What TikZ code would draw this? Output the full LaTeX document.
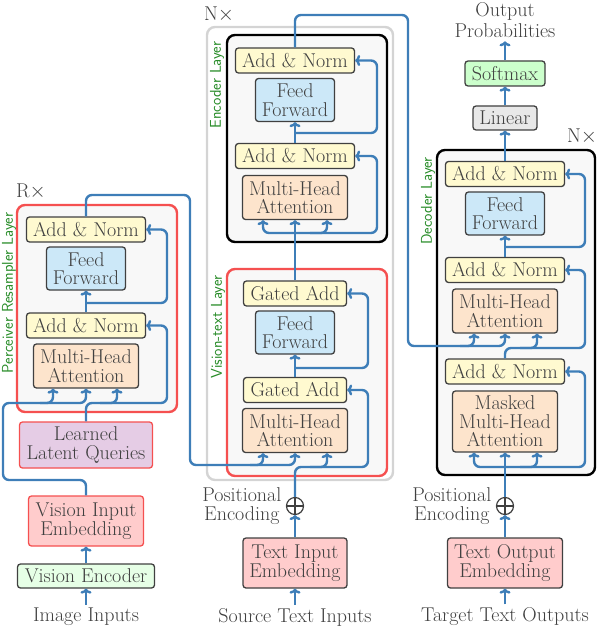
\documentclass[tikz,border=0pt]{standalone}
\usepackage{fontspec}
\usetikzlibrary{arrows.meta,calc}
\definecolor{conn}{RGB}{62,126,184}
\definecolor{txt}{RGB}{64,64,64}
\definecolor{anfill}{RGB}{255,250,208}
\definecolor{fffill}{RGB}{204,232,248}
\definecolor{mhafill}{RGB}{253,228,204}
\definecolor{redframe}{RGB}{245,80,80}
\definecolor{grayframe}{RGB}{212,212,212}
\definecolor{framefill}{RGB}{248,248,248}
\definecolor{lblgreen}{RGB}{40,140,40}
\definecolor{linfill}{RGB}{232,232,232}
\definecolor{smfill}{RGB}{204,255,204}
\definecolor{vefill}{RGB}{230,255,230}
\definecolor{embfill}{RGB}{255,204,204}
\definecolor{llqfill}{RGB}{229,204,229}
\begin{document}
\begin{tikzpicture}[x=1pt,y=-1pt,
  every node/.style={font=\fontsize{20}{18.6}\selectfont, text=txt},
  blk/.style={draw=txt, line width=1.3pt, rounded corners=3pt, align=center, inner sep=0pt},
  an/.style={blk, fill=anfill, minimum width=119pt, minimum height=25pt},
  ga/.style={blk, fill=anfill, minimum width=103pt, minimum height=25pt},
  ffn/.style={blk, fill=fffill, minimum width=79pt, minimum height=43pt},
  mha/.style={blk, fill=mhafill, minimum width=105pt, minimum height=44pt},
  emb/.style={blk, fill=embfill, minimum height=50pt},
  redf/.style={draw=redframe, line width=2.4pt, fill=framefill, rounded corners=8pt},
  blkf/.style={draw=black, line width=2.4pt, fill=framefill, rounded corners=8pt},
  grayf/.style={draw=grayframe, line width=2.4pt, fill=white, rounded corners=8pt},
  lbl/.style={rotate=90, font=\sffamily\fontsize{15.6}{15.6}\selectfont, text=lblgreen},
  cn/.style={draw=conn, line width=2.4pt, rounded corners=6pt},
  ar/.style={cn, -{To[length=5pt,width=11pt]}},
  opl/.style={circle, draw=txt, line width=1.2pt, minimum size=17pt, inner sep=0pt,
    path picture={\draw[txt, line width=1.2pt] (path picture bounding box.north) -- (path picture bounding box.south) (path picture bounding box.west) -- (path picture bounding box.east);}}
]
\useasboundingbox (0,0) rectangle (598,628);

% frames
\draw[redf] (17,205) rectangle (177,412);
\draw[grayf] (207,27) rectangle (393,480);
\draw[blkf] (227,35) rectangle (387,242);
\draw[redf] (227,269) rectangle (387,476);
\draw[blkf] (437,150) rectangle (595,475);

% frame labels
\node (rx) at (31,192) {R$\times$};
\node (nx1) at (219,15) {N$\times$};
\node (nx2) at (582,137) {N$\times$};
\node[lbl] (lp) at (9,293) {Perceiver Resampler Layer};
\node[lbl] (le) at (217,85) {Encoder Layer};
\node[lbl] (lv) at (218,327) {Vision-text Layer};
\node[lbl] (ld) at (428,201) {Decoder Layer};

% perceiver nodes
\node[an] (pan1) at (86,229.5) {Add \& Norm};
\node[ffn] (pff) at (86,268.5) {Feed\\Forward};
\node[an] (pan2) at (86,325.5) {Add \& Norm};
\node[mha] (pmha) at (86,366) {Multi-Head\\Attention};
\node[blk, draw=redframe, fill=llqfill, minimum width=133pt, minimum height=46pt] (llq) at (86,445) {Learned\\Latent Queries};
\node[emb, draw=redframe, minimum width=115pt] (vie) at (86,521) {Vision Input\\Embedding};
\node[blk, fill=vefill, minimum width=137pt, minimum height=24pt] (ve) at (86,576) {Vision Encoder};
\node (ii) at (86,617) {Image Inputs};

% encoder nodes
\node[an] (ean1) at (295,60.5) {Add \& Norm};
\node[ffn] (eff) at (295,100) {Feed\\Forward};
\node[an] (ean2) at (295,156) {Add \& Norm};
\node[mha] (emha) at (295,197.5) {Multi-Head\\Attention};

% vision-text nodes
\node[ga] (vga1) at (295,293.5) {Gated Add};
\node[ffn] (vff) at (295,332.5) {Feed\\Forward};
\node[ga] (vga2) at (295,390) {Gated Add};
\node[mha] (vmha) at (295,430.5) {Multi-Head\\Attention};

\node[opl] (oplus1) at (295,506) {};
\node[align=center, anchor=east] (pe1) at ([xshift=-1pt]oplus1.west) {Positional\\Encoding};
\node[emb, minimum width=104pt] (tie) at (295,563) {Text Input\\Embedding};
\node (sti) at (295,617) {Source Text Inputs};

% decoder nodes
\node[an] (dan1) at (505,174) {Add \& Norm};
\node[ffn] (dff) at (505,213.5) {Feed\\Forward};
\node[an] (dan2) at (505,270) {Add \& Norm};
\node[mha] (dmha) at (505,311) {Multi-Head\\Attention};
\node[an] (dan3) at (505,371.5) {Add \& Norm};
\node[mha, minimum height=61pt] (dmmha) at (505,421.5) {Masked\\Multi-Head\\Attention};
\node[blk, fill=linfill, minimum width=64pt, minimum height=24pt] (lin) at (505,118) {Linear};
\node[blk, fill=smfill, minimum width=80pt, minimum height=25pt] (sm) at (505,73.5) {Softmax};
\node[align=center, font=\fontsize{20}{21.5}\selectfont] (op) at (505,20) {Output\\Probabilities};

\node[opl] (oplus2) at (505,506) {};
\node[align=center, anchor=east] (pe2) at ([xshift=-1pt]oplus2.west) {Positional\\Encoding};
\node[emb, minimum width=115pt] (toe) at (505,563) {Text Output\\Embedding};
\node (tto) at (505,617) {Target Text Outputs};

% ---------- connectors ----------
% perceiver
\draw[ar] (ii.north) -- (ve.south);
\draw[ar] (ve.north) -- (vie.south);
\draw[ar] (vie.north) -- (86,480) -- (3,480) -- (3,403) -- (86,403) -- (pmha.south);
\draw[ar] (40,403) -- (53,403) -- ([xshift=-33pt]pmha.south);
\draw[ar] (llq.north) -- (86,403) -- (167,403) -- (167,325.5) -- (pan2.east);
\draw[ar] (100,403) -- (117,403) -- ([xshift=31pt]pmha.south);
\draw[ar] (pan2.north) -- (pff.south);
\draw[ar] (86,303) -- (167,303) -- (167,229.5) -- (pan1.east);
\draw[ar] (pan1.north) -- (86,195) -- (190,195) -- (190,465) -- (295,465) -- (vmha.south);
\draw[ar] (250,465) -- (263,465) -- ([xshift=-32pt]vmha.south);

% vision-text
\draw[ar] (sti.north) -- (tie.south);
\draw[ar] (tie.north) -- (oplus1.south);
\draw[ar] (oplus1.north) -- (295,467) -- (368,467) -- (368,390) -- (vga2.east);
\draw[ar] (310,467) -- (327,467) -- ([xshift=32pt]vmha.south);
\draw[ar] (vga2.north) -- (vff.south);
\draw[ar] (295,368) -- (368,368) -- (368,293.5) -- (vga1.east);
\draw[ar] (vga1.north) -- (emha.south);

% encoder
\draw[ar] (295,233) -- (263,233) -- ([xshift=-32pt]emha.south);
\draw[ar] (295,233) -- (377,233) -- (377,156) -- (ean2.east);
\draw[ar] (310,233) -- (327,233) -- ([xshift=32pt]emha.south);
\draw[ar] (ean2.north) -- (eff.south);
\draw[ar] (295,133) -- (377,133) -- (377,60.5) -- (ean1.east);
\draw[ar] (ean1.north) -- (295,15) -- (408,15) -- (408,346) -- (505,346) -- (dmha.south);
\draw[ar] (460,346) -- (474,346) -- ([xshift=-31pt]dmha.south);

% decoder
\draw[ar] (tto.north) -- (toe.south);
\draw[ar] (toe.north) -- (oplus2.south);
\draw[ar] (oplus2.north) -- (dmmha.south);
\draw[ar] (505,467) -- (474,467) -- ([xshift=-31pt]dmmha.south);
\draw[ar] (505,467) -- (585,467) -- (585,371.5) -- (dan3.east);
\draw[ar] (520,467) -- (537,467) -- ([xshift=32pt]dmmha.south);
\draw[ar] (dan3.north) -- (505,348) -- (585,348) -- (585,270) -- (dan2.east);
\draw[ar] (520,348) -- (537,348) -- ([xshift=32pt]dmha.south);
\draw[ar] (dan2.north) -- (dff.south);
\draw[ar] (505,247) -- (585,247) -- (585,174) -- (dan1.east);
\draw[ar] (dan1.north) -- (lin.south);
\draw[ar] (lin.north) -- (sm.south);
\draw[ar] (sm.north) -- (op.south);
\end{tikzpicture}
\end{document}
